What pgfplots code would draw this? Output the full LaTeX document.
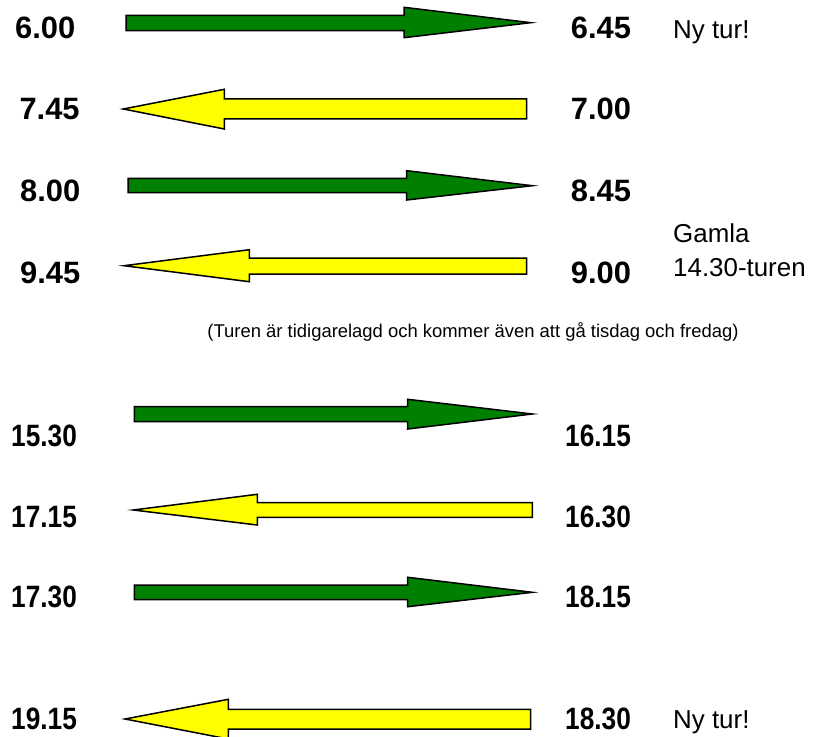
\documentclass[border=0pt]{standalone}
\usepackage{pgfplots}
\pgfplotsset{compat=1.18}
\usepackage{fontspec}
\setmainfont{Liberation Sans}
\definecolor{arrgreen}{RGB}{0,128,0}
\definecolor{arryellow}{RGB}{255,255,0}
\newcommand{\tbig}{\fontsize{31}{36}\selectfont\bfseries}
\newcommand{\tcond}[1]{\scalebox{0.85}[1]{\tbig #1}}
\newcommand{\tmed}{\fontsize{26}{30}\selectfont}
\newcommand{\tsml}{\fontsize{18.5}{22}\selectfont}
\begin{document}
\begin{tikzpicture}
\begin{axis}[
  scale only axis, width=814bp, height=737bp,
  xmin=0, xmax=814, ymin=0, ymax=737, y dir=reverse,
  hide axis, clip=true,
  every axis plot/.append style={line width=1.5bp, draw=black, line join=miter},
]
\addplot[draw=none, fill=none, forget plot] coordinates {(0,0) (814,737)};
% right arrows (green)
\addplot[fill=arrgreen] coordinates {(126,15.3) (404,15.3) (404,7.3) (530.7,22.7) (404,37.7) (404,30.7) (126,30.7)} -- cycle;
\addplot[fill=arrgreen] coordinates {(128,178.3) (406.7,178.3) (406.7,170.7) (532.3,185.7) (406.7,200) (406.7,192.7) (128,192.7)} -- cycle;
\addplot[fill=arrgreen] coordinates {(134.3,406.7) (407.7,406.7) (407.7,399.3) (532.3,414) (407.7,429) (407.7,421.7) (134.3,421.7)} -- cycle;
\addplot[fill=arrgreen] coordinates {(134.3,585) (407.7,585) (407.7,577.3) (532.3,592.3) (407.7,606.7) (407.7,599.7) (134.3,599.7)} -- cycle;
% left arrows (yellow)
\addplot[fill=arryellow] coordinates {(526.7,99) (224.3,99) (224.3,89.3) (123.3,109) (224.3,129) (224.3,119) (526.7,119)} -- cycle;
\addplot[fill=arryellow] coordinates {(526.7,258) (249.3,258) (249.3,249.7) (124,265.7) (249.3,281.7) (249.3,274) (526.7,274)} -- cycle;
\addplot[fill=arryellow] coordinates {(532.3,502.7) (257.3,502.7) (257.3,494.3) (133.3,510) (257.3,525) (257.3,517.3) (532.3,517.3)} -- cycle;
\addplot[fill=arryellow] coordinates {(530.7,709.3) (228.3,709.3) (228.3,699.3) (125,719) (228.3,739) (228.3,729) (530.7,729)} -- cycle;
% times
\begin{scope}[every node/.style={inner sep=0pt, anchor=base west}]
\node at (axis cs:15,39) {\tbig 6.00};
\node at (axis cs:19.3,120) {\tbig 7.45};
\node at (axis cs:20,202) {\tbig 8.00};
\node at (axis cs:20,283) {\tbig 9.45};
\node at (axis cs:570.7,39) {\tbig 6.45};
\node at (axis cs:570.7,120) {\tbig 7.00};
\node at (axis cs:570.7,202) {\tbig 8.45};
\node at (axis cs:570.7,283) {\tbig 9.00};
\node at (axis cs:11,446) {\tcond{15.30}};
\node at (axis cs:565,446) {\tcond{16.15}};
\node at (axis cs:11,527) {\tcond{17.15}};
\node at (axis cs:565,527) {\tcond{16.30}};
\node at (axis cs:11,607) {\tcond{17.30}};
\node at (axis cs:565,607) {\tcond{18.15}};
\node at (axis cs:11,729) {\tcond{19.15}};
\node at (axis cs:565,729) {\tcond{18.30}};
\node at (axis cs:673,38.5) {\tmed Ny tur!};
\node at (axis cs:673,242.7) {\tmed Gamla};
\node at (axis cs:673,276.7) {\tmed 14.30-turen};
\node at (axis cs:673,728) {\tmed Ny tur!};
\end{scope}
\node[inner sep=0pt, anchor=base] at (axis cs:473,337) {\tsml (Turen är tidigarelagd och kommer även att gå tisdag och fredag)};
\end{axis}
\end{tikzpicture}
\end{document}
